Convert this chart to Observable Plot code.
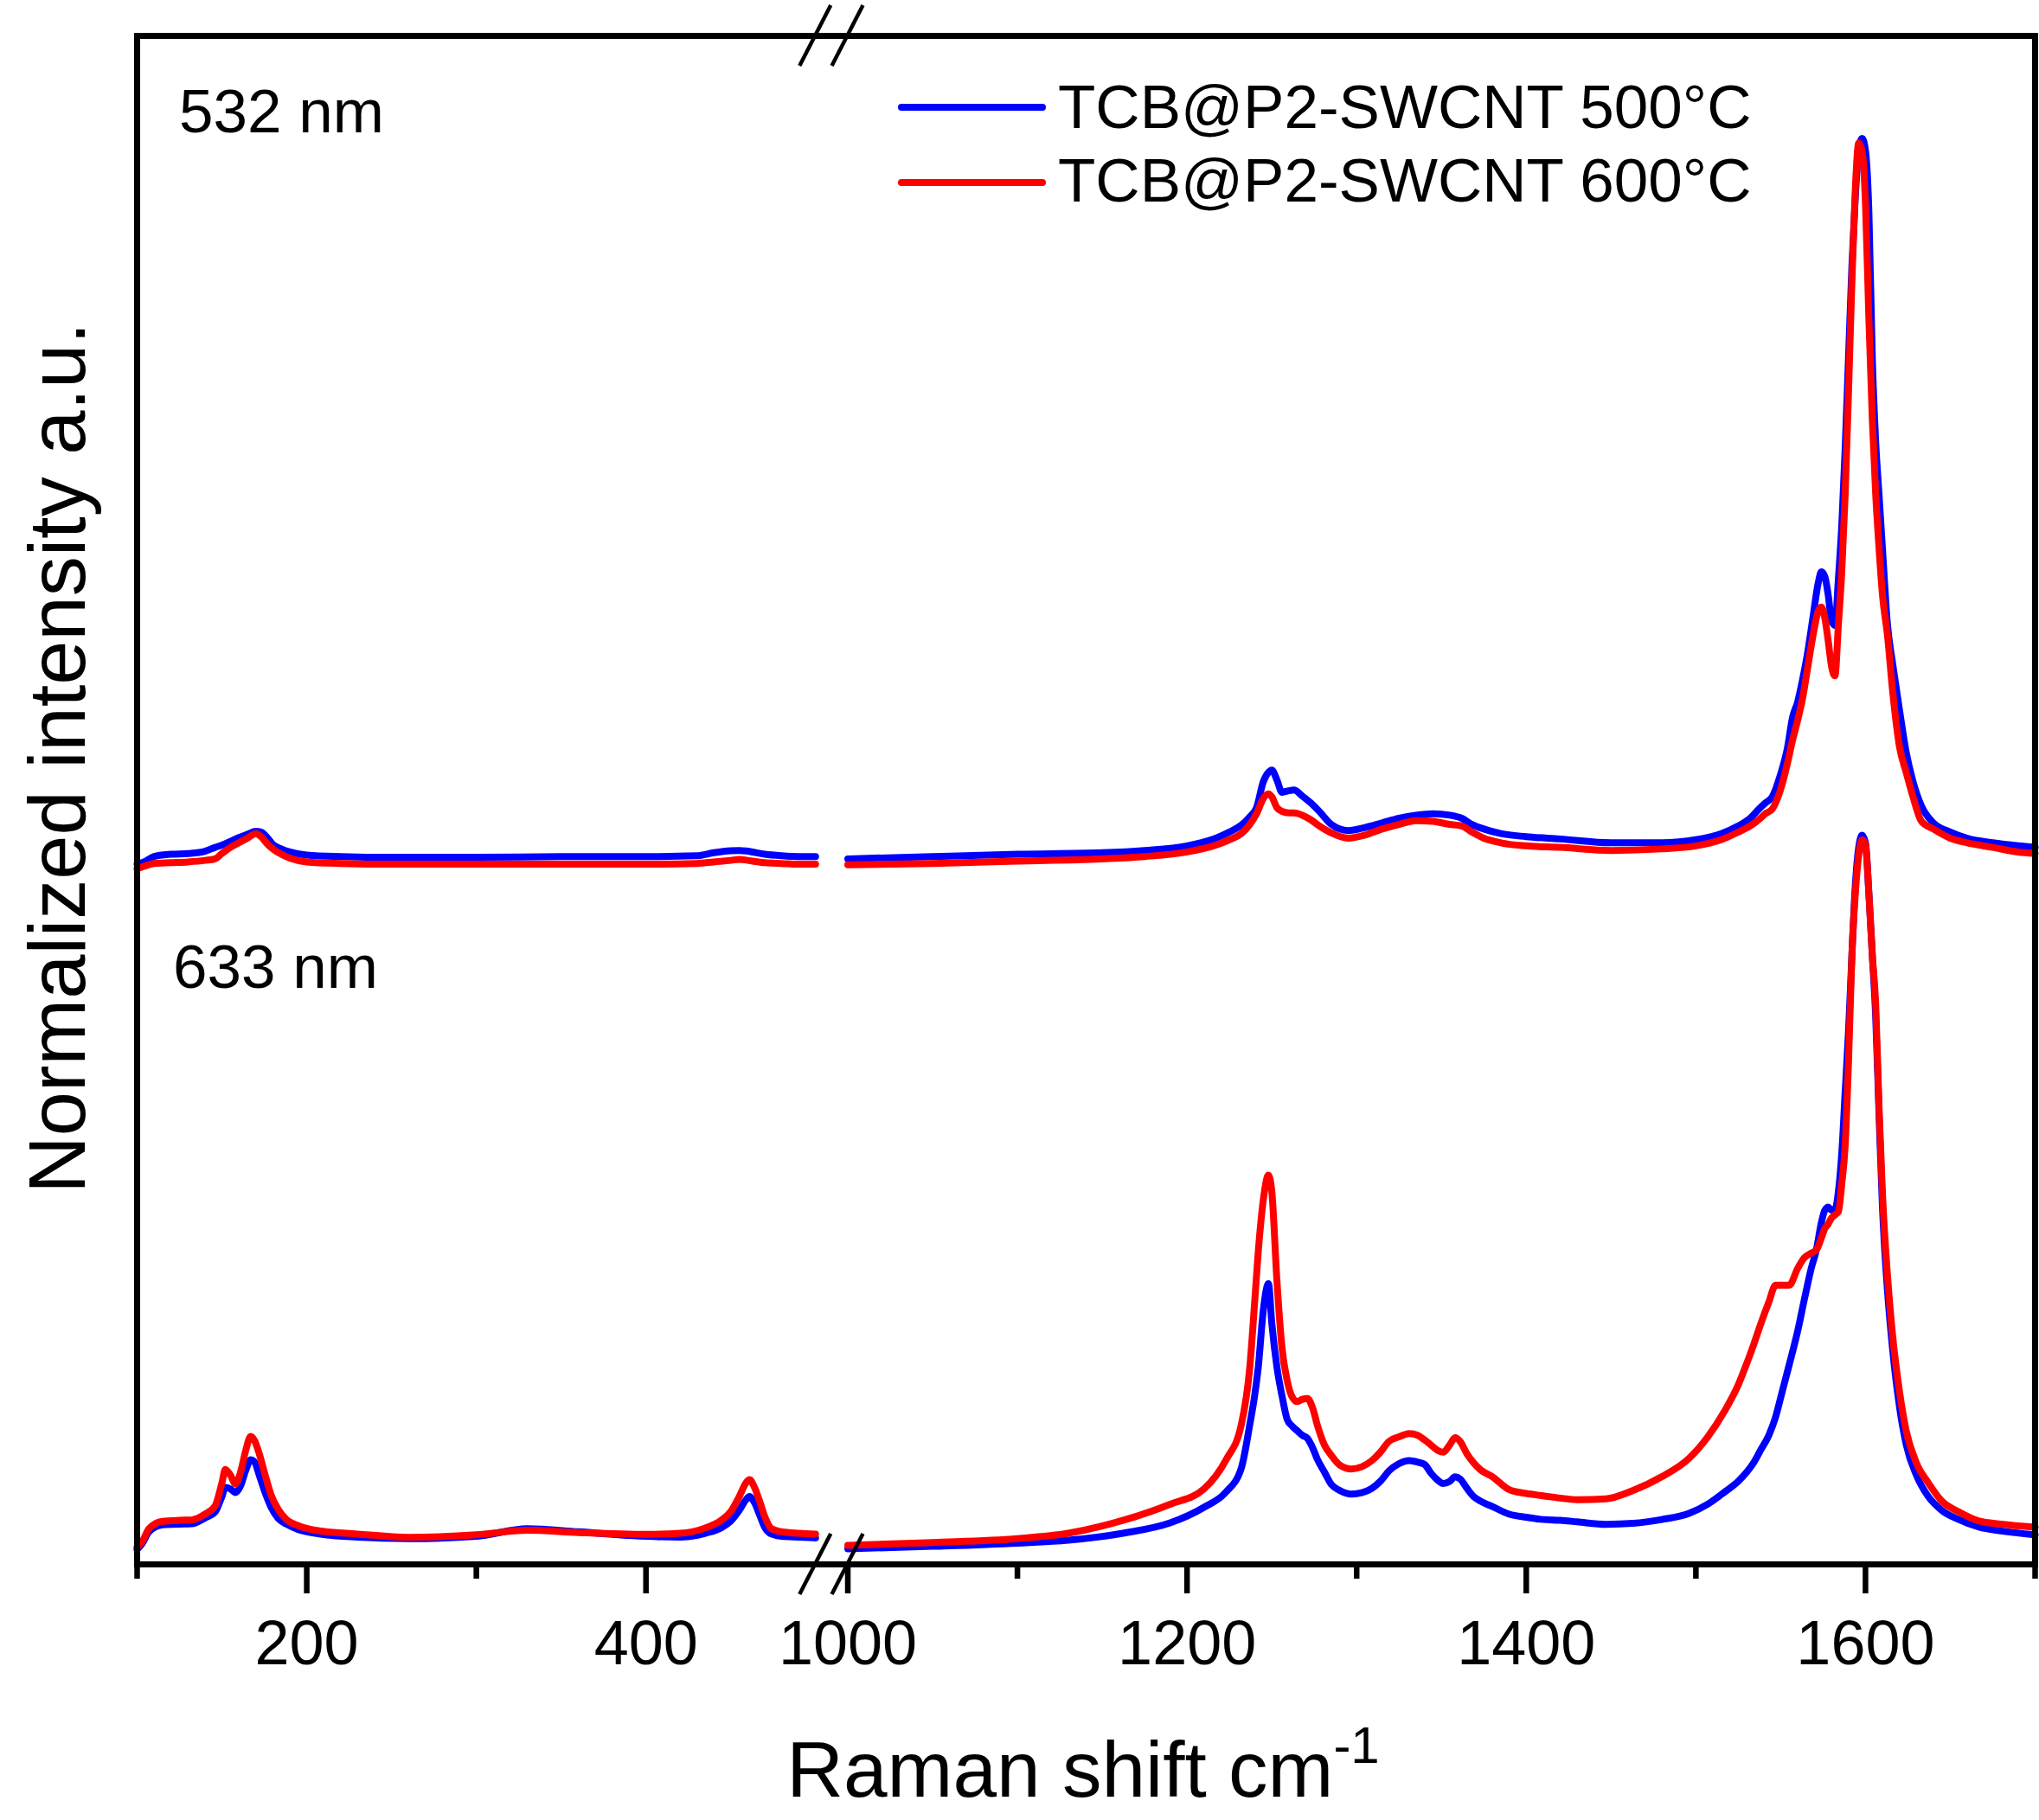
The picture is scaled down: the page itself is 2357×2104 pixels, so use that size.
<!DOCTYPE html>
<html>
<head>
<meta charset="utf-8">
<script src="https://cdn.jsdelivr.net/npm/d3@7"></script>
<script src="https://cdn.jsdelivr.net/npm/@observablehq/plot@0.6"></script>
<style>
  html, body { margin: 0; padding: 0; background: #fff; }
  svg { display: block; }
</style>
</head>
<body>
<div id="chart"></div>
<script>
// ---------------- DATA ----------------
const seriesNames = ["TCB@P2-SWCNT 500°C", "TCB@P2-SWCNT 600°C"];
const seriesColors = ["#0000FF", "#FF0000"];
const laserLabels = ["532 nm", "633 nm"];

const majorTicks = [200, 400, 1000, 1200, 1400, 1600];
const minorTicks = [100, 300, 1100, 1300, 1500, 1700];
const xLabel = "Raman shift cm";
const xLabelSup = "-1";
const yLabel = "Normalized intensity a.u.";

// axis break (cm-1)
const breakStart = 500;
const breakEnd = 1000;
const breakGap = 19;

// 532 nm, low-frequency segment
const shift532L = [100,105,110,120,130,140,146,150,155,160,165,170,173,177,180,185,190,200,220,250,300,350,400,430,440,450,455,460,470,480,490,500];
const blue532L = [45.9,46.1,46.4,46.55,46.6,46.75,47.0,47.15,47.4,47.65,47.85,48.05,48.0,47.6,47.2,46.9,46.7,46.5,46.4,46.35,46.35,46.4,46.4,46.45,46.65,46.78,46.8,46.75,46.55,46.45,46.4,46.4];
const red532L = [45.6,45.8,45.95,46.0,46.05,46.15,46.25,46.6,47.0,47.3,47.6,47.9,47.7,47.2,46.9,46.55,46.3,46.05,45.95,45.9,45.9,45.9,45.9,45.95,46.05,46.15,46.22,46.15,46.0,45.95,45.9,45.9];

// 532 nm, high-frequency segment
const shift532R = [1000,1050,1100,1150,1175,1200,1217,1225,1232,1237,
  1241,1245,1248,1250,1253,1256,1260,1263,1268,1273,
  1278,1285,1295,1305,1315,1325,1335,1345,1355,1362,
  1368,1375,1385,1400,1420,1450,1480,1500,1515,1525,
  1532,1538,1541,1545,1550,1554,1557,1560,1563,1566,
  1569,1572,1574,1576,1578,1580,1582,1584,1586,1588,
  1590,1592,1594,1596,1598,1600,1602,1604,1606,1608,
  1610,1613,1616,1620,1624,1628,1633,1640,1650,1660,
  1675,1690,1700];
const blue532R = [46.25,46.4,46.55,46.65,46.8,47.1,47.6,48.0,48.45,49.0,
  49.6,51.3,51.9,52.05,51.4,50.6,50.7,50.75,50.35,49.9,
  49.35,48.5,48.1,48.3,48.6,48.9,49.1,49.2,49.1,48.9,
  48.5,48.2,47.9,47.7,47.55,47.3,47.3,47.5,47.9,48.4,
  48.9,49.6,49.9,50.3,51.8,53.5,55.5,56.5,58.0,59.8,
  62.0,64.2,65.0,64.7,63.5,61.8,61.5,64.5,68,73,
  79,85,89.5,92.5,93.3,92.5,88.5,79,73.5,70,
  66.5,61.5,59,56,53.2,51.3,49.7,48.6,48.0,47.6,
  47.3,47.1,47.0];
const red532R = [45.86,45.95,46.1,46.25,46.4,46.7,47.15,47.5,47.9,48.5,
  49.2,50.2,50.5,50.3,49.6,49.35,49.25,49.25,49.1,48.8,
  48.4,47.95,47.6,47.8,48.2,48.5,48.75,48.7,48.5,48.4,
  48.0,47.6,47.3,47.1,47.0,46.8,46.9,47.1,47.5,48.0,
  48.4,48.9,49.2,49.5,50.8,52.5,54.0,55.3,56.8,58.8,
  60.8,62.4,62.7,62.0,60.5,58.8,58.2,61.5,65,70,
  76.8,84,90,93.0,92.5,89,81.5,75,70.1,66.5,
  63.5,60.8,57.2,53.6,51.9,50.3,48.7,48.2,47.6,47.3,
  47.0,46.7,46.6];

// 633 nm, low-frequency segment
const shift633L = [100,103,107,115,125,132,140,146,150,152,155,158,161,164,167,169,172,175,179,183,188,195,205,230,260,300,330,360,400,420,435,445,450,455,459,461,464,467,470,474,480,490,500];
const red633L = [1.3,1.66,2.5,2.98,3.05,3.07,3.45,4.0,5.5,6.37,6.0,5.42,6.2,7.6,8.53,8.3,7.4,6.2,4.7,3.8,3.1,2.7,2.4,2.15,1.94,2.1,2.4,2.25,2.13,2.2,2.55,3.1,3.63,4.6,5.5,5.7,5.2,4.3,3.3,2.5,2.3,2.2,2.15];
const blue633L = [1.15,1.53,2.3,2.75,2.8,2.82,3.2,3.6,4.6,5.2,5.1,4.86,5.3,6.3,7.0,6.9,6.0,5.0,3.9,3.2,2.8,2.45,2.2,1.95,1.85,2.0,2.5,2.3,2.0,1.95,2.2,2.6,3.0,3.7,4.4,4.6,4.2,3.4,2.6,2.15,2.0,1.95,1.9];

// 633 nm, high-frequency segment
const shift633R = [1000,1050,1100,1130,1163,1190,1210,1223,1232,1237,
  1240,1242,1245,1248,1250,1253,1256,1259,1262,1265,
  1268,1271,1274,1277,1281,1285,1290,1297,1303,1309,
  1314,1319,1325,1331,1336,1340,1344,1348,1351,1355,
  1358,1361,1365,1369,1373,1380,1390,1400,1410,1420,
  1430,1447,1463,1480,1496,1507,1517,1525,1530,1534,
  1538,1543,1547,1551,1555,1560,1564,1568,1571,1574,
  1576,1578,1580,1582,1584,1586,1588,1590,1592,1594,
  1596,1598,1600,1602,1604,1606,1608,1610,1613,1616,
  1620,1624,1630,1637,1645,1655,1667,1680,1700];
const red633R = [1.41,1.6,1.85,2.2,3.07,4.1,5.1,7.0,9.3,13.05,
  17.5,20.6,24.0,25.6,24.5,18.7,14.3,12.2,11.1,10.8,
  10.95,11.0,10.4,9.2,7.97,7.3,6.66,6.4,6.55,6.95,
  7.5,8.2,8.5,8.72,8.6,8.3,7.95,7.6,7.5,8.0,
  8.44,8.2,7.4,6.8,6.35,5.9,5.05,4.8,4.65,4.5,
  4.4,4.45,5.0,5.9,7.1,8.5,10.2,11.9,13.3,14.5,
  15.8,17.3,18.4,18.4,18.4,19.5,20.2,20.5,20.7,21.5,
  22.1,22.4,22.8,23.0,23.2,25.0,27.5,33,40,44,
  46.5,47.5,47.2,44,40,36.8,30,24.4,19,15.1,
  11.5,8.9,6.8,5.5,4.3,3.6,3.0,2.8,2.6];
const blue633R = [1.19,1.35,1.56,1.75,2.22,2.88,3.9,4.9,6.46,9.3,
  11.3,13.05,16.8,18.5,15.9,13.05,11.17,9.66,9.2,8.9,
  8.6,8.4,7.8,7.0,6.2,5.4,5.0,4.76,4.85,5.14,
  5.6,6.27,6.75,6.95,6.85,6.7,6.1,5.65,5.45,5.6,
  5.89,5.75,5.14,4.6,4.3,3.95,3.45,3.25,3.1,3.05,
  2.95,2.79,2.85,3.1,3.5,4.1,4.9,5.6,6.2,6.8,
  7.6,8.6,9.8,11.5,13.2,15.4,17.5,19.5,20.7,22.5,
  23.3,23.5,23.3,23.4,24.5,27,31,35,40,44.5,
  47,47.8,47.3,44,40,36,29.5,23.5,18,14.2,
  10.5,8.0,6.0,4.6,3.7,3.1,2.6,2.35,2.1];

// ---------------- BUILD ROWS ----------------
const rows = [];
function addCurve(xs, ys, series, seg) {
  if (xs.length !== ys.length) console.warn("length mismatch", seg, series, xs.length, ys.length);
  xs.forEach((x, i) => rows.push({x, y: ys[i], series, seg: seg + "|" + series}));
}
addCurve(shift532L, blue532L, seriesNames[0], "532L");
addCurve(shift532R, blue532R, seriesNames[0], "532R");
addCurve(shift633L, blue633L, seriesNames[0], "633L");
addCurve(shift633R, blue633R, seriesNames[0], "633R");
addCurve(shift532L, red532L, seriesNames[1], "532L");
addCurve(shift532R, red532R, seriesNames[1], "532R");
addCurve(shift633L, red633L, seriesNames[1], "633L");
addCurve(shift633R, red633R, seriesNames[1], "633R");

// broken axis: compress the empty range between breakStart and breakEnd
const cut = breakEnd - breakStart - breakGap;
const toU = x => x <= (breakStart + breakEnd) / 2 ? x : x - cut;
const fromU = u => u <= breakStart + breakGap / 2 ? u : u + cut;

const FONT = "'Liberation Sans', Arial, Helvetica, sans-serif";

const plot = Plot.plot({
  width: 2357,
  height: 2104,
  marginLeft: 158,
  marginRight: 5,
  marginTop: 41,
  marginBottom: 296,
  style: {fontFamily: FONT, background: "white", color: "black"},
  x: {domain: [toU(100), toU(1700)], axis: null},
  y: {domain: [0.17, 100], axis: null},
  color: {domain: seriesNames, range: seriesColors},
  marks: [
    Plot.line(rows.filter(d => d.series === seriesNames[0]), {
      x: d => toU(d.x), y: "y", z: "seg", stroke: "series",
      strokeWidth: 8, curve: "monotone-x", strokeLinejoin: "round"
    }),
    Plot.line(rows.filter(d => d.series === seriesNames[1]), {
      x: d => toU(d.x), y: "y", z: "seg", stroke: "series",
      strokeWidth: 8, curve: "monotone-x", strokeLinejoin: "round"
    }),
    Plot.axisX(majorTicks.map(toU), {
      anchor: "bottom", tickSize: 34, tickPadding: 30, fontSize: 72,
      strokeWidth: 6.5, tickFormat: u => String(Math.round(fromU(u))), label: null
    }),
    Plot.axisX(minorTicks.map(toU), {
      anchor: "bottom", tickSize: 17, strokeWidth: 6.5, tickFormat: () => "", label: null
    }),
    Plot.frame({strokeWidth: 7, stroke: "black"})
  ]
});

document.getElementById("chart").appendChild(plot);

// ---------------- ANNOTATIONS ----------------
const svg = d3.select(plot);
const xScale = plot.scale("x");
const ann = svg.append("g")
  .attr("font-family", FONT)
  .attr("fill", "black")
  .attr("text-anchor", "start");

// axis break slashes on top and bottom frame lines
const frameTop = 41, frameBottom = 2104 - 296;
[breakStart, breakEnd].forEach(v => {
  const px = xScale.apply(toU(v));
  [frameTop, frameBottom].forEach(py => {
    ann.append("line")
      .attr("x1", px - 18).attr("y1", py + 35)
      .attr("x2", px + 18).attr("y2", py - 35)
      .attr("stroke", "black").attr("stroke-width", 4.5);
  });
});

// laser labels
ann.append("text").attr("x", 207).attr("y", 153).attr("font-size", 71)
  .attr("text-anchor", "start").text(laserLabels[0]);
ann.append("text").attr("x", 200).attr("y", 1142).attr("font-size", 71)
  .attr("text-anchor", "start").text(laserLabels[1]);

// legend
[[124, 148], [211, 233]].forEach(([ly, ty], i) => {
  ann.append("line")
    .attr("x1", 1042).attr("x2", 1205).attr("y1", ly).attr("y2", ly)
    .attr("stroke", seriesColors[i]).attr("stroke-width", 8).attr("stroke-linecap", "round");
  ann.append("text").attr("x", 1223).attr("y", ty).attr("font-size", 71)
    .attr("text-anchor", "start").text(seriesNames[i]);
});

// x axis title with superscript
const xt = ann.append("text")
  .attr("x", 1252).attr("y", 2077).attr("text-anchor", "middle").attr("font-size", 91);
xt.append("tspan").text(xLabel);
xt.append("tspan").attr("font-size", 60).attr("dy", -39).text(xLabelSup);

// y axis title
ann.append("text")
  .attr("transform", "translate(98,876) rotate(-90)")
  .attr("text-anchor", "middle").attr("font-size", 92)
  .text(yLabel);
</script>
</body>
</html>
